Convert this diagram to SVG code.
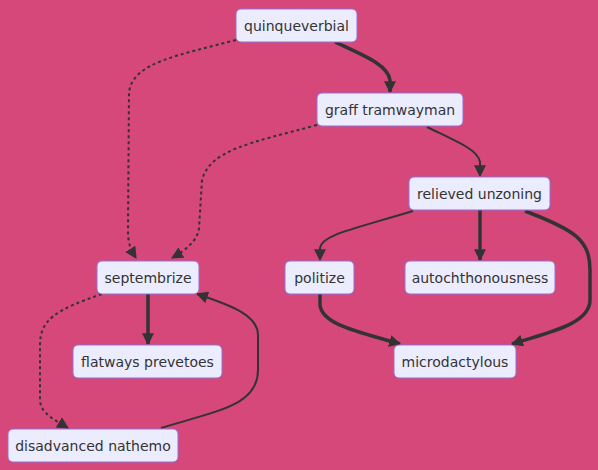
<svg xmlns="http://www.w3.org/2000/svg" width="598" height="470" viewBox="0 0 598 470">
<style>
.node rect{fill:#ECECFF;stroke:#9370DB;stroke-width:1}
.node text{font-family:"DejaVu Sans",Verdana,sans-serif;font-size:14px;fill:#333333;text-anchor:middle}
.edge{fill:none;stroke:#333333}
.thick{stroke-width:3.5}
.thin{stroke-width:2}
.dotted{stroke-width:2;stroke-dasharray:3 3}
</style>
<defs>
<marker id="arrow" viewBox="0 0 10 10" refX="9" refY="5" markerWidth="12" markerHeight="12" markerUnits="userSpaceOnUse" orient="auto">
<path d="M0,0 L10,5 L0,10 z" fill="#333333"/>
</marker>
</defs>
<rect width="598" height="470" fill="#D54879"/>
<g id="connectors">
<path class="edge thick" d="M335,42 C365,56 388,65 390,80 L390,92" marker-end="url(#arrow)"/>
<path class="edge dotted" d="M236,40 C180,55 133,62 129,92 L128,230 C128,245 131,250 136,258" marker-end="url(#arrow)"/>
<path class="edge dotted" d="M317,125 C250,143 210,150 202,180 L199,228 C198,240 186,250 172,258" marker-end="url(#arrow)"/>
<path class="edge thin" d="M427,127 C460,143 478,150 480,162 L480,176" marker-end="url(#arrow)"/>
<path class="edge thin" d="M413,211 C350,230 322,235 320,248 L320,260" marker-end="url(#arrow)"/>
<path class="edge thick" d="M480,210 L480,260" marker-end="url(#arrow)"/>
<path class="edge thick" d="M525,211 C575,230 590,240 590,270 L590,300 C590,325 545,333 512,344" marker-end="url(#arrow)"/>
<path class="edge thick" d="M148,294 L148,344" marker-end="url(#arrow)"/>
<path class="edge dotted" d="M102,294 C55,310 40,320 40,345 L40,400 C40,413 55,420 68,428" marker-end="url(#arrow)"/>
<path class="edge thin" d="M161,428 C220,410 258,405 258,370 L258,335 C258,315 230,305 197,294" marker-end="url(#arrow)"/>
<path class="edge thick" d="M320,294 L320,305 C322,325 360,332 400,344" marker-end="url(#arrow)"/>
</g>
<g id="quinqueverbial" class="node"><rect x="236" y="9" width="121" height="33" rx="5"/><text x="296.5" y="30.5">quinqueverbial</text></g>
<g id="graff-tramwayman" class="node"><rect x="317" y="93" width="146" height="33" rx="5"/><text x="390" y="114.5">graff tramwayman</text></g>
<g id="relieved-unzoning" class="node"><rect x="409" y="177" width="141" height="33" rx="5"/><text x="479.5" y="198.5">relieved unzoning</text></g>
<g id="septembrize" class="node"><rect x="97" y="261" width="102" height="33" rx="5"/><text x="148" y="282.5">septembrize</text></g>
<g id="politize" class="node"><rect x="285" y="261" width="69" height="33" rx="5"/><text x="319.5" y="282.5">politize</text></g>
<g id="autochthonousness" class="node"><rect x="405" y="261" width="150" height="33" rx="5"/><text x="480" y="282.5">autochthonousness</text></g>
<g id="flatways-prevetoes" class="node"><rect x="73" y="345" width="149" height="33" rx="5"/><text x="147.5" y="366.5">flatways prevetoes</text></g>
<g id="microdactylous" class="node"><rect x="394" y="345" width="122" height="33" rx="5"/><text x="455" y="366.5">microdactylous</text></g>
<g id="disadvanced-nathemo" class="node"><rect x="8" y="429" width="170" height="33" rx="5"/><text x="93" y="450.5">disadvanced nathemo</text></g>
</svg>
